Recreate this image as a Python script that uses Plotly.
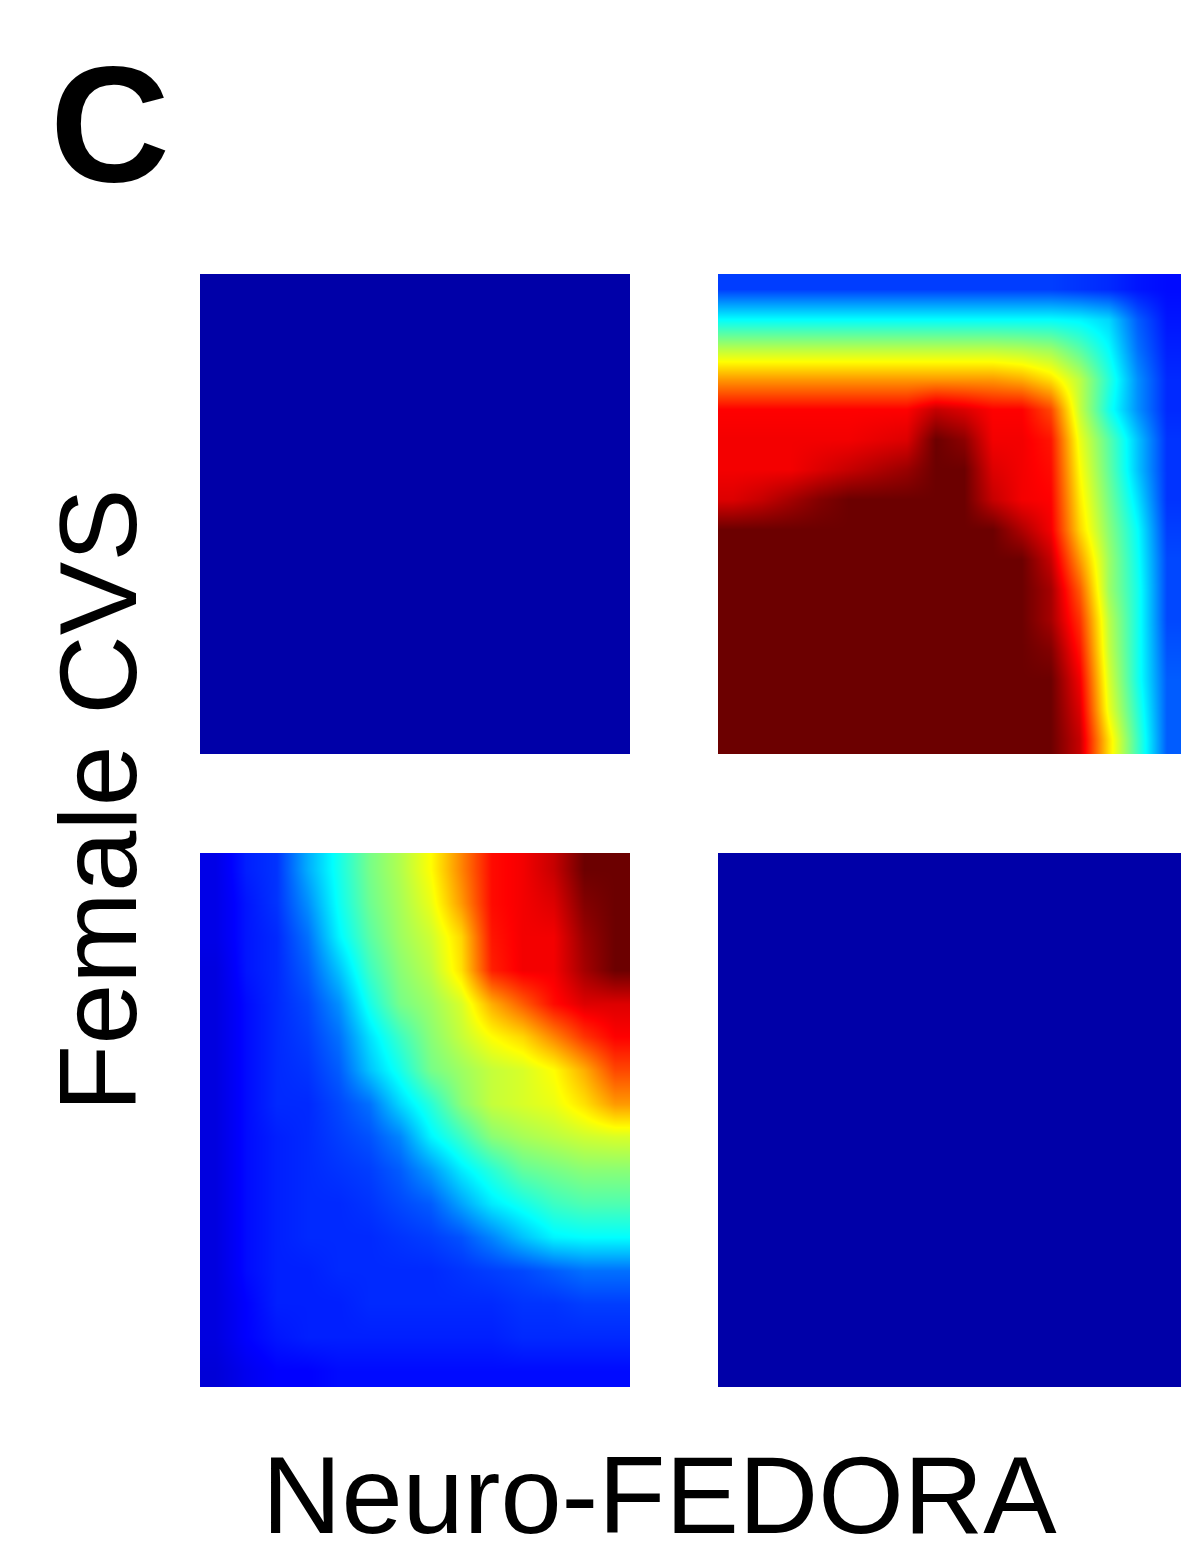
import plotly.graph_objects as go

# ---------------- data ----------------
# Top-left panel: uniformly low (dark blue)
z_top_left = [
    [0.0, 0.0, 0.0, 0.0],
    [0.0, 0.0, 0.0, 0.0],
    [0.0, 0.0, 0.0, 0.0],
    [0.0, 0.0, 0.0, 0.0],
]

# Top-right panel (rows top -> bottom, 16 x 16)
z_top_right = [
    [0.17, 0.17, 0.17, 0.17, 0.17, 0.17, 0.17, 0.17, 0.17, 0.17, 0.17, 0.17, 0.16, 0.15, 0.13, 0.12],
    [0.36, 0.36, 0.36, 0.36, 0.36, 0.36, 0.36, 0.36, 0.36, 0.36, 0.36, 0.36, 0.35, 0.32, 0.20, 0.13],
    [0.55, 0.55, 0.55, 0.55, 0.55, 0.55, 0.55, 0.55, 0.55, 0.55, 0.54, 0.52, 0.45, 0.36, 0.22, 0.14],
    [0.72, 0.72, 0.72, 0.72, 0.72, 0.72, 0.72, 0.72, 0.72, 0.72, 0.70, 0.65, 0.55, 0.40, 0.25, 0.15],
    [0.87, 0.87, 0.87, 0.87, 0.87, 0.87, 0.87, 0.92, 0.90, 0.87, 0.87, 0.80, 0.56, 0.38, 0.25, 0.15],
    [0.88, 0.88, 0.88, 0.88, 0.88, 0.89, 0.90, 1.00, 0.97, 0.88, 0.88, 0.85, 0.60, 0.45, 0.30, 0.16],
    [0.88, 0.88, 0.88, 0.90, 0.92, 0.94, 0.96, 1.00, 1.00, 0.90, 0.88, 0.86, 0.62, 0.46, 0.30, 0.16],
    [0.90, 0.92, 0.95, 0.98, 1.00, 1.00, 1.00, 1.00, 1.00, 0.92, 0.88, 0.87, 0.64, 0.48, 0.33, 0.16],
    [1.00, 1.00, 1.00, 1.00, 1.00, 1.00, 1.00, 1.00, 1.00, 1.00, 0.94, 0.88, 0.66, 0.50, 0.36, 0.17],
    [1.00, 1.00, 1.00, 1.00, 1.00, 1.00, 1.00, 1.00, 1.00, 1.00, 1.00, 0.92, 0.72, 0.52, 0.37, 0.18],
    [1.00, 1.00, 1.00, 1.00, 1.00, 1.00, 1.00, 1.00, 1.00, 1.00, 1.00, 0.95, 0.78, 0.52, 0.38, 0.18],
    [1.00, 1.00, 1.00, 1.00, 1.00, 1.00, 1.00, 1.00, 1.00, 1.00, 1.00, 0.95, 0.82, 0.55, 0.38, 0.18],
    [1.00, 1.00, 1.00, 1.00, 1.00, 1.00, 1.00, 1.00, 1.00, 1.00, 1.00, 0.98, 0.85, 0.56, 0.38, 0.19],
    [1.00, 1.00, 1.00, 1.00, 1.00, 1.00, 1.00, 1.00, 1.00, 1.00, 1.00, 1.00, 0.88, 0.58, 0.38, 0.20],
    [1.00, 1.00, 1.00, 1.00, 1.00, 1.00, 1.00, 1.00, 1.00, 1.00, 1.00, 1.00, 0.90, 0.60, 0.40, 0.20],
    [1.00, 1.00, 1.00, 1.00, 1.00, 1.00, 1.00, 1.00, 1.00, 1.00, 1.00, 1.00, 0.92, 0.65, 0.42, 0.20],
]

# Bottom-left panel (rows top -> bottom, 16 x 14)
z_bottom_left = [
    [0.08, 0.14, 0.16, 0.28, 0.38, 0.48, 0.54, 0.62, 0.74, 0.86, 0.88, 0.92, 1.00, 1.00],
    [0.08, 0.13, 0.16, 0.25, 0.37, 0.47, 0.53, 0.60, 0.72, 0.86, 0.88, 0.90, 0.98, 1.00],
    [0.08, 0.13, 0.15, 0.22, 0.35, 0.45, 0.52, 0.57, 0.66, 0.85, 0.88, 0.88, 0.96, 1.00],
    [0.07, 0.13, 0.15, 0.20, 0.30, 0.42, 0.50, 0.55, 0.65, 0.84, 0.88, 0.88, 0.95, 1.00],
    [0.07, 0.12, 0.15, 0.18, 0.25, 0.38, 0.48, 0.52, 0.58, 0.70, 0.78, 0.86, 0.90, 0.90],
    [0.07, 0.12, 0.15, 0.17, 0.22, 0.33, 0.42, 0.50, 0.56, 0.62, 0.66, 0.74, 0.82, 0.87],
    [0.07, 0.12, 0.15, 0.16, 0.20, 0.30, 0.38, 0.48, 0.52, 0.56, 0.58, 0.62, 0.70, 0.80],
    [0.07, 0.12, 0.15, 0.15, 0.18, 0.22, 0.32, 0.40, 0.50, 0.56, 0.58, 0.60, 0.65, 0.72],
    [0.07, 0.12, 0.14, 0.15, 0.17, 0.19, 0.24, 0.35, 0.42, 0.50, 0.53, 0.55, 0.57, 0.58],
    [0.07, 0.12, 0.14, 0.15, 0.16, 0.17, 0.20, 0.26, 0.34, 0.40, 0.46, 0.48, 0.50, 0.50],
    [0.07, 0.12, 0.14, 0.15, 0.15, 0.16, 0.18, 0.20, 0.27, 0.34, 0.38, 0.42, 0.44, 0.44],
    [0.07, 0.12, 0.14, 0.15, 0.15, 0.15, 0.16, 0.17, 0.19, 0.24, 0.30, 0.35, 0.36, 0.36],
    [0.07, 0.12, 0.14, 0.14, 0.15, 0.15, 0.15, 0.15, 0.16, 0.17, 0.18, 0.20, 0.22, 0.22],
    [0.07, 0.11, 0.14, 0.14, 0.14, 0.15, 0.15, 0.15, 0.15, 0.15, 0.16, 0.16, 0.17, 0.17],
    [0.07, 0.11, 0.13, 0.14, 0.14, 0.14, 0.14, 0.14, 0.14, 0.14, 0.15, 0.15, 0.15, 0.15],
    [0.06, 0.09, 0.11, 0.11, 0.12, 0.12, 0.12, 0.12, 0.12, 0.12, 0.12, 0.12, 0.12, 0.12],
]

# Bottom-right panel: uniformly low (dark blue)
z_bottom_right = [
    [0.0, 0.0, 0.0, 0.0],
    [0.0, 0.0, 0.0, 0.0],
    [0.0, 0.0, 0.0, 0.0],
    [0.0, 0.0, 0.0, 0.0],
]

panel_label = "C"
row_label = "Female CVS"
col_label = "Neuro-FEDORA"

# ---------------- style ----------------
W, H = 1181, 1559
jet = [
    [0.0, "rgb(0,0,168)"],
    [0.11, "rgb(0,0,255)"],
    [0.36, "rgb(0,255,255)"],
    [0.62, "rgb(255,255,0)"],
    [0.87, "rgb(255,0,0)"],
    [1.0, "rgb(108,0,0)"],
]

def px_x(a, b):
    return [a / W, b / W]

def px_y(top, bottom):
    return [1 - bottom / H, 1 - top / H]

panels = [
    (z_top_left, px_x(200, 630), px_y(274, 754)),
    (z_top_right, px_x(718, 1181), px_y(274, 754)),
    (z_bottom_left, px_x(200, 630), px_y(853, 1387)),
    (z_bottom_right, px_x(718, 1181), px_y(853, 1387)),
]

fig = go.Figure()
layout = dict(
    width=W, height=H,
    margin=dict(l=0, r=0, t=0, b=0),
    paper_bgcolor="white", plot_bgcolor="white",
    showlegend=False,
)

for i, (z, xd, yd) in enumerate(panels, start=1):
    nrows = len(z)
    ncols = len(z[0])
    xa = "x" if i == 1 else f"x{i}"
    ya = "y" if i == 1 else f"y{i}"
    fig.add_trace(go.Heatmap(
        z=z, xaxis=xa, yaxis=ya,
        colorscale=jet, zmin=0, zmax=1,
        zsmooth="best", showscale=False, hoverinfo="skip",
    ))
    axcommon = dict(showgrid=False, zeroline=False, showticklabels=False,
                    ticks="", showline=False, fixedrange=True)
    layout["xaxis" if i == 1 else f"xaxis{i}"] = dict(
        domain=xd, range=[-0.5, ncols - 0.5], anchor=ya, **axcommon)
    layout["yaxis" if i == 1 else f"yaxis{i}"] = dict(
        domain=yd, range=[nrows - 0.5, -0.5], anchor=xa, **axcommon)

fig.update_layout(**layout)

fig.add_annotation(
    text=panel_label, xref="paper", yref="paper",
    x=110 / W, y=1 - 124 / H, xanchor="center", yanchor="middle",
    showarrow=False,
    font=dict(family="Liberation Sans, Arial, sans-serif", size=166, color="black", weight="bold"),
)
fig.add_annotation(
    text=row_label, xref="paper", yref="paper",
    x=97 / W, y=1 - 800 / H, xanchor="center", yanchor="middle",
    textangle=-90, showarrow=False,
    font=dict(family="Liberation Sans, Arial, sans-serif", size=110, color="black"),
)
fig.add_annotation(
    text=col_label, xref="paper", yref="paper",
    x=660 / W, y=2 / H, xanchor="center", yanchor="bottom",
    showarrow=False, borderpad=0,
    font=dict(family="Liberation Sans, Arial, sans-serif", size=110, color="black"),
)

fig.write_html(
    "out.html",
    config={"displayModeBar": False},
    post_script="document.body.style.margin='0';document.body.style.overflow='hidden';",
)
